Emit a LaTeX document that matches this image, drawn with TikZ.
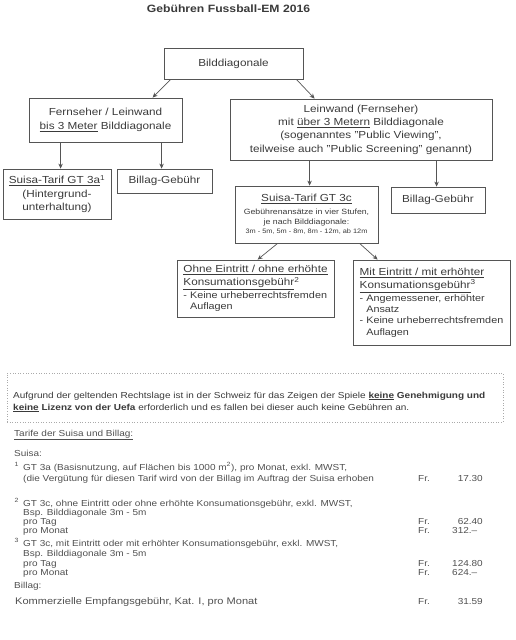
\documentclass[tikz,border=0pt]{standalone}
\usepackage{fontspec}
\setmainfont{Liberation Sans}[FakeStretch=1.15]
\usetikzlibrary{arrows.meta}
\definecolor{inkgray}{HTML}{3A3A3A}
\definecolor{linegray}{HTML}{555555}
\definecolor{lowgray}{HTML}{505050}
\definecolor{dotgray}{HTML}{AAAAAA}
\newcommand{\bxfnt}{\fontsize{10.2}{13.3}\selectfont}
\newcommand{\lstfnt}{\fontsize{9.4}{11.5}\selectfont}
\newcommand{\lowfnt}{\fontsize{8.7}{9}\selectfont}
\tikzset{
  box/.style={draw=linegray, line width=0.8pt, inner sep=0pt, align=center,
    text=inkgray, font=\bxfnt},
  arr/.style={draw=linegray, line width=0.7pt, -{Stealth[length=5pt,width=4.5pt]}},
  txt/.style={anchor=base west, inner sep=0pt, text=lowgray, font=\lowfnt},
  amt/.style={anchor=base east, inner sep=0pt, text=lowgray, font=\lowfnt}
}
\begin{document}
\begin{tikzpicture}[x=1pt,y=-1pt]
  \useasboundingbox (0,0) rectangle (516,640);
  \node[text=inkgray, font=\fontsize{10.6}{12}\selectfont\bfseries] (title) at (228.5,8.5)
    {Gebühren Fussball-EM 2016};
  % tree of boxes
  \node[box, minimum width=139pt, minimum height=31pt] (diag) at (233.5,63.5) {Bilddiagonale};
  \node[box, minimum width=153pt, minimum height=44pt] (fern) at (105.5,120)
    {Fernseher / Leinwand\\ \underline{bis 3 Meter} Bilddiagonale};
  \node[box, minimum width=262pt, minimum height=61pt] (lein) at (361,129.5)
    {Leinwand (Fernseher)\\ mit \underline{über 3 Metern} Bilddiagonale\\
     (sogenanntes "Public Viewing",\\ teilweise auch "Public Screening" genannt)};
  \node[box, minimum width=108pt, minimum height=50pt] (gt3a) at (57,194)
    {\underline{Suisa-Tarif GT 3a}\textsuperscript{1}\\ (Hintergrund-\\ unterhaltung)};
  \node[box, minimum width=95pt, minimum height=24pt] (billagl) at (164.5,181) {Billag-Gebühr};
  \node[box, minimum width=143pt, minimum height=57pt] (gt3c) at (306.5,214.5)
    {\underline{Suisa-Tarif GT 3c}\\[-0.5pt]
     {\fontsize{7.6}{10}\selectfont Gebührenansätze in vier Stufen,}\\[-3.3pt]
     {\fontsize{7.6}{10}\selectfont je nach Bilddiagonale:}\\[-4.3pt]
     {\fontsize{6.4}{9}\selectfont 3m - 5m, 5m - 8m, 8m - 12m, ab 12m}};
  \node[box, minimum width=94pt, minimum height=26pt] (billagr) at (438,200) {Billag-Gebühr};
  \node[box, minimum width=157pt, minimum height=57pt, align=left] (ohne) at (255.5,288.5)
    {\underline{Ohne Eintritt / ohne erhöhte}\\ \underline{Konsumationsgebühr}\textsuperscript{2}\\[-0.5pt]
     {\lstfnt - Keine urheberrechtsfremden}\\[-2pt] {\lstfnt\phantom{- }Auflagen}};
  \node[box, minimum width=157pt, minimum height=85pt, align=left] (mit) at (431.5,302.5)
    {\underline{Mit Eintritt / mit erhöhter}\\ \underline{Konsumationsgebühr}\textsuperscript{3}\\[-0.5pt]
     {\lstfnt - Angemessener, erhöhter}\\[-2pt] {\lstfnt\phantom{- }Ansatz}\\[-2pt]
     {\lstfnt - Keine urheberrechtsfremden}\\[-2pt] {\lstfnt\phantom{- }Auflagen}};
  \begin{scope}
    \draw[arr] ([xshift=7pt]diag.south west) -- ([xshift=124pt]fern.north west);
    \draw[arr] ([xshift=-7pt]diag.south east) -- ([xshift=85pt]lein.north west);
    \draw[arr] ([xshift=32pt]fern.south west) -- ([xshift=32pt]fern.south west |- gt3a.north);
    \draw[arr] ([xshift=133pt]fern.south west) -- ([xshift=133pt]fern.south west |- billagl.north);
    \draw[arr] ([xshift=80pt]lein.south west) -- ([xshift=80pt]lein.south west |- gt3c.north);
    \draw[arr] ([xshift=207pt]lein.south west) -- ([xshift=207pt]lein.south west |- billagr.north);
    \draw[arr] ([xshift=43pt]gt3c.south west) -- ([xshift=81pt]ohne.north west);
    \draw[arr] ([xshift=125pt]gt3c.south west) -- ([xshift=25pt]mit.north west);
  \end{scope}
  % note and tariffs
  \node[draw=dotgray, dotted, line width=0.6pt, minimum width=496pt, minimum height=49pt,
    inner sep=0pt] (note) at (255,397.5) {};
  \node[txt, text=inkgray] (note1) at (13,398) {Aufgrund der geltenden Rechtslage ist in der Schweiz für das
    Zeigen der Spiele \textbf{\underline{keine}} \textbf{Genehmigung und}};
  \node[txt, text=inkgray] (note2) at (13,410) {\textbf{\underline{keine}} \textbf{Lizenz von der Uefa}
    erforderlich und es fallen bei dieser auch keine Gebühren an.};
  \node[txt] (tarife) at (14,436) {\underline{Tarife der Suisa und Billag:}};
  \node[txt] (suisa) at (14,456) {Suisa:};
  \node[txt] (s1) at (14.5,470) {\textsuperscript{1}};
  \node[txt] (a1) at (23,470) {GT 3a (Basisnutzung, auf Flächen bis 1000 m\textsuperscript{2}), pro Monat, exkl. MWST,};
  \node[txt] (a2) at (23,481) {(die Vergütung für diesen Tarif wird von der Billag im Auftrag der Suisa erhoben};
  \node[txt] (fa) at (418,481) {Fr.};
  \node[amt] (va) at (483,481) {17.30};
  \node[txt] (s2) at (14.5,506) {\textsuperscript{2}};
  \node[txt] (b1) at (23,506) {GT 3c, ohne Eintritt oder ohne erhöhte Konsumationsgebühr, exkl. MWST,};
  \node[txt] (b2) at (23,515) {Bsp. Bilddiagonale 3m - 5m};
  \node[txt] (b3) at (23,524) {pro Tag};
  \node[txt] (b4) at (23,533) {pro Monat};
  \node[txt] (fb3) at (418,524) {Fr.};
  \node[amt] (vb3) at (483,524) {62.40};
  \node[txt] (fb4) at (418,533) {Fr.};
  \node[amt] (vb4) at (483,533) {312.–\phantom{0}};
  \node[txt] (s3) at (14.5,546) {\textsuperscript{3}};
  \node[txt] (c1) at (23,546) {GT 3c, mit Eintritt oder mit erhöhter Konsumationsgebühr, exkl. MWST,};
  \node[txt] (c2) at (23,556) {Bsp. Bilddiagonale 3m - 5m};
  \node[txt] (c3) at (23,566) {pro Tag};
  \node[txt] (c4) at (23,575) {pro Monat};
  \node[txt] (fc3) at (418,566) {Fr.};
  \node[amt] (vc3) at (483,566) {124.80};
  \node[txt] (fc4) at (418,575) {Fr.};
  \node[amt] (vc4) at (483,575) {624.–\phantom{0}};
  \node[txt] (billag) at (14,588) {Billag:};
  \node[txt, font=\fontsize{9.6}{10}\selectfont] (d1) at (15,604) {Kommerzielle Empfangsgebühr, Kat. I, pro Monat};
  \node[txt] (fd) at (418,604) {Fr.};
  \node[amt] (vd) at (483,604) {31.59};
\end{tikzpicture}
\end{document}
